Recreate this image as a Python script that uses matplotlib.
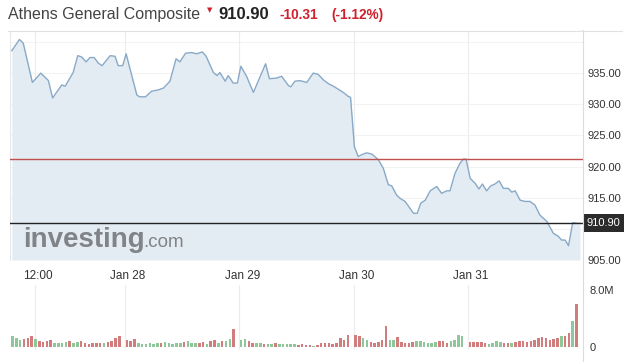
import matplotlib
matplotlib.use('Agg')
import matplotlib.pyplot as plt
from matplotlib.lines import Line2D
from matplotlib.transforms import ScaledTranslation

plt.rcParams['font.family'] = ['Liberation Sans', 'DejaVu Sans']

# price trace: time in 15-min slots from the Jan 27 open (30 slots per day)
price_t = [0.3, 2.3, 3.3, 5.7, 7.9, 9.9, 11.0, 13.4, 14.3, 16.4,
           17.6, 18.6, 19.8, 20.8, 21.9, 23.0, 24.0, 26.1, 27.4, 28.2,
           29.4, 30.3, 33.1, 33.8, 35.4, 37.0, 38.7, 40.1, 41.8, 43.4,
           44.4, 45.9, 47.5, 48.8, 50.3, 51.3, 53.2, 54.2, 54.9, 56.3,
           57.1, 58.4, 59.5, 60.4, 61.9, 63.7, 65.3, 66.9, 67.9, 69.8,
           71.1, 72.9, 73.5, 74.6, 75.9, 77.7, 79.4, 80.7, 82.1, 83.4,
           84.7, 86.0, 87.3, 88.5, 89.2, 90.2, 91.2, 92.1, 93.4, 94.8,
           96.5, 97.8, 99.1, 100.0, 101.3, 102.2, 103.5, 104.8, 105.7, 106.7,
           107.6, 108.8, 110.1, 111.8, 113.1, 114.4, 115.3, 116.6, 117.9, 118.8,
           119.5, 120.6, 121.9, 122.9, 123.8, 124.9, 126.0, 127.1, 128.2, 129.3,
           130.6, 131.5, 132.4, 133.7, 135.0, 136.3, 137.6, 138.9, 140.7, 142.4,
           143.7, 144.6, 145.5, 146.4, 147.5, 148.6, 149.4]
price_v = [938.6, 940.4, 939.8, 933.5, 935.0, 933.8, 931.0, 933.1, 932.9, 935.1,
           937.8, 937.6, 936.8, 937.5, 937.5, 936.6, 936.2, 937.8, 937.7, 936.2,
           936.2, 938.1, 931.5, 931.2, 931.2, 932.1, 932.3, 932.6, 933.7, 937.3,
           936.8, 938.2, 938.3, 938.1, 938.4, 937.7, 935.1, 934.6, 935.1, 933.7,
           934.6, 933.4, 933.4, 936.1, 934.5, 931.9, 934.2, 936.5, 934.1, 934.2,
           934.5, 933.0, 932.8, 933.7, 933.8, 933.5, 935.0, 934.8, 933.9, 933.3,
           932.9, 932.4, 931.9, 931.3, 931.1, 923.2, 921.6, 921.9, 922.2, 922.0,
           921.1, 919.7, 917.1, 916.9, 915.4, 914.9, 914.4, 913.3, 912.5, 912.5,
           914.1, 914.6, 916.1, 916.8, 915.7, 916.1, 916.1, 918.9, 920.5, 921.2,
           921.2, 918.1, 917.3, 916.4, 917.2, 916.1, 916.9, 917.2, 917.7, 916.5,
           916.5, 915.9, 916.1, 914.6, 914.4, 914.4, 913.8, 912.2, 911.2, 909.3,
           908.8, 908.2, 908.2, 907.3, 911.0, 910.9, 910.9]

prev_close = 921.21
last = 910.90

# volume (millions), 29 bars per day, g = up bar, r = down bar
vol_days = [
    [1.6, 1.2, 1.0, 1.1, 1.3, 1.6, 1.1, 0.8, 0.7, 0.9, 1.0, 0.5, 0.6, 0.6, 0.7,
     0.8, 0.6, 0.7, 0.9, 0.5, 0.4, 0.5, 0.5, 0.6, 0.5, 0.7, 0.8, 1.2, 1.5],
    [1.0, 0.8, 1.1, 0.5, 0.4, 0.4, 0.5, 0.4, 0.5, 0.6, 0.7, 0.5, 0.4, 0.5, 0.6,
     0.7, 0.9, 0.6, 0.5, 0.5, 0.7, 0.4, 0.9, 1.0, 0.6, 0.8, 0.9, 1.1, 2.5],
    [1.0, 1.1, 0.9, 0.6, 0.5, 0.5, 0.4, 0.4, 0.4, 0.5, 0.4, 0.4, 0.4, 0.4, 0.4,
     0.3, 0.4, 0.3, 0.3, 0.2, 0.3, 0.5, 0.6, 0.5, 0.4, 0.6, 1.2, 1.0, 1.7],
    [1.7, 1.6, 1.2, 1.0, 0.7, 0.6, 0.7, 1.0, 2.9, 1.0, 1.0, 1.4, 0.7, 0.6, 0.6,
     0.7, 0.8, 0.8, 0.7, 0.6, 0.6, 0.7, 0.8, 0.8, 0.6, 0.9, 1.0, 1.7, 1.5],
    [0.7, 0.7, 0.7, 0.7, 0.5, 0.4, 0.6, 0.8, 0.7, 0.6, 0.5, 0.5, 0.7, 0.8, 0.8,
     0.7, 0.8, 1.0, 1.2, 1.4, 1.2, 1.0, 1.1, 1.3, 1.5, 1.6, 1.9, 3.6, 6.0],
]
dir_days = [
    "gggrrrgrrrrggggrggrrrrrrgrrrr",
    "rrrggggggrgggggrgggrrgrrgrggr",
    "ggrrggrggrgggggrrrrgrrrrrrrrr",
    "rrggrrrrrggrrrrrggggggrrrgggg",
    "rrrrrggggrrgrrrrrrrrrrrrgrrgr",
]

tick_pos = [6.4, 30, 60, 90, 120]
tick_lab = ['12:00', 'Jan 28', 'Jan 29', 'Jan 30', 'Jan 31']
price_ticks = [905, 915, 920, 925, 930, 935]   # 910 is hidden under the last-price tag

W, H = 631, 362
fig = plt.figure(figsize=(W / 100, H / 100), dpi=100)

def fx(x):
    return x / W

def fy(y):
    return 1 - y / H

xmin, xmax = -0.18, 150.2
line_col = '#88a9c7'
fill_col = '#e4ecf3'

ax = fig.add_axes([fx(10), fy(260), fx(573), (260 - 32) / H])
ax.set_xlim(xmin, xmax)
ax.set_ylim(905, 941.6)
for v in range(905, 945, 5):
    ax.axhline(v, color='#f3f3f3', lw=0.8, zorder=0)
for t in tick_pos:
    ax.axvline(t, color='#ececec', lw=0.8, zorder=0)
ax.fill_between(price_t, price_v, 905, color=fill_col, lw=0, zorder=1)
ax.plot(price_t, price_v, color=line_col, lw=1.0, zorder=3)
ax.axhline(prev_close, color='#c0504d', lw=1.0, zorder=4)
ax.axhline(last, color='#222222', lw=1.0, zorder=4)

for s in ax.spines.values():
    s.set_visible(False)
ax.spines['left'].set_visible(True)
ax.spines['left'].set_color('#e8e8e8')

ax.yaxis.tick_right()
ax.set_yticks(price_ticks)
ax.set_yticklabels(['%.2f' % v for v in price_ticks], fontsize=8, color='#333333')
ax.tick_params(axis='y', length=0, pad=3)
ax.set_xticks(tick_pos)
ax.set_xticklabels(tick_lab, fontsize=8.5, color='#333333')
ax.tick_params(axis='x', length=0, pad=7)
for lab in ax.get_xticklabels():
    lab.set_transform(lab.get_transform() + ScaledTranslation(0.03, 0, fig.dpi_scale_trans))

# last price tag
tag = ax.text(1.0, last, '%.2f' % last, transform=ax.get_yaxis_transform(),
              ha='left', va='center', fontsize=8, color='white', zorder=6,
              bbox=dict(boxstyle='square,pad=0.35', fc='#2b2b2b', ec='none'))
tag.set_transform(tag.get_transform() + ScaledTranslation(0.035, 0, fig.dpi_scale_trans))

# watermark
ax.text(13 / 573, 0.055, 'investing', transform=ax.transAxes, fontsize=20,
        fontweight='bold', color='#808387', zorder=2)
ax.text(133 / 573, 0.055, '.com', transform=ax.transAxes, fontsize=13.5,
        color='#808387', zorder=2)

# volume panel
axv = fig.add_axes([fx(10), fy(350), fx(573), 65 / H])
axv.set_xlim(xmin, xmax)
axv.set_ylim(-0.42, 8.7)
for t in tick_pos:
    axv.axvline(t, color='#ececec', lw=0.8, zorder=0)
colors = {'g': '#8ec89a', 'r': '#d27d7d'}
for d in range(5):
    xs = [d * 30 + j + 0.5 for j in range(len(vol_days[d]))]
    axv.bar(xs, vol_days[d], width=0.66, bottom=0,
            color=[colors[c] for c in dir_days[d]], zorder=2)
for s in axv.spines.values():
    s.set_visible(False)
axv.set_xticks([])
axv.yaxis.tick_right()
axv.set_yticks([0, 8])
axv.set_yticklabels(['0', '8.0M'], fontsize=8, color='#333333')
axv.tick_params(axis='y', length=0, pad=5)

# separators
fig.add_artist(Line2D([fx(583), fx(583)], [fy(30), fy(362)], color='#dcdcdc', lw=0.8))
fig.add_artist(Line2D([fx(8), fx(622)], [fy(30.5), fy(30.5)], color='#e2e2e2', lw=0.8))

# header
fig.text(fx(8), fy(19), 'Athens General Composite', fontsize=11.5, color='#444444')
fig.text(fx(207), fy(12), '\u25bc', fontsize=5, color='#d0202e', family=['DejaVu Sans'])
fig.text(fx(218), fy(19), '910.90', fontsize=12, fontweight='bold', color='#222222')
fig.text(fx(280), fy(19), '-10.31', fontsize=9.8, fontweight='bold', color='#d0202e')
fig.text(fx(331), fy(19), '(-1.12%)', fontsize=9.8, fontweight='bold', color='#d0202e')

fig.savefig('out.png', dpi=100)
